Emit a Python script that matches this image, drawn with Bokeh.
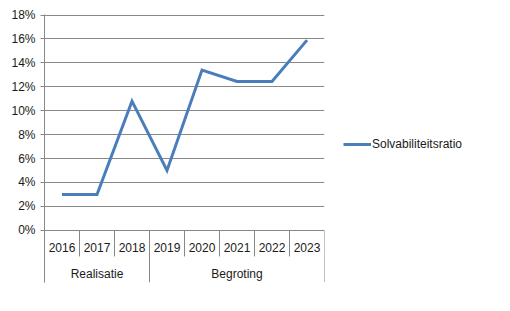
from bokeh.plotting import figure
from bokeh.models import Range1d, FixedTicker, NumeralTickFormatter, Legend, LegendItem, ColumnDataSource
from bokeh.core.properties import value
from bokeh.embed import file_html
from bokeh.resources import INLINE

years = ["2016", "2017", "2018", "2019", "2020", "2021", "2022", "2023"]
groups = ["Realisatie", "Begroting"]
group_sizes = [3, 5]
solvabiliteit = [0.030, 0.030, 0.108, 0.050, 0.134, 0.1245, 0.1245, 0.159]
y_ticks = [0.0, 0.02, 0.04, 0.06, 0.08, 0.10, 0.12, 0.14, 0.16, 0.18]
series_name = "Solvabiliteitsratio"

FONT = "Liberation Sans"
LINE_COLOR = "#4A7EBB"
GRID_COLOR = "#888888"
TEXT_COLOR = "#1a1a1a"

n = len(years)
px_per_unit = 11.92 * 100  # pixels per 1.0 of y
y_bottom = -52.0 / px_per_unit
y_top = 0.18 + 0.5 / px_per_unit

p = figure(frame_width=280, frame_height=268, output_backend="svg", toolbar_location=None,
           x_range=Range1d(0, n), y_range=Range1d(y_bottom, y_top),
           min_border_left=44, min_border_right=186, min_border_top=14, min_border_bottom=29)
p.outline_line_color = None
p.background_fill_color = "white"
p.border_fill_color = "white"

p.xaxis.visible = False
p.xgrid.visible = False

yax = p.yaxis[0]
yax.ticker = FixedTicker(ticks=y_ticks)
yax.formatter = NumeralTickFormatter(format="0%")
yax.axis_line_color = GRID_COLOR
yax.major_tick_line_color = GRID_COLOR
yax.major_tick_out = 4
yax.major_tick_in = 0
yax.minor_tick_line_color = None
yax.major_label_standoff = 5
yax.major_label_text_font = FONT
yax.major_label_text_font_size = "12px"
yax.major_label_text_color = TEXT_COLOR

p.ygrid.ticker = FixedTicker(ticks=y_ticks)
p.ygrid.grid_line_color = GRID_COLOR
p.ygrid.grid_line_width = 1

# category axis separators
year_sep_x = list(range(1, n))
p.segment(x0=year_sep_x, y0=[0] * len(year_sep_x), x1=year_sep_x,
          y1=[-26.0 / px_per_unit] * len(year_sep_x), line_color=GRID_COLOR, line_width=1)
bounds = [0]
for s in group_sizes:
    bounds.append(bounds[-1] + s)
grp_sep_x = bounds[1:]
p.segment(x0=grp_sep_x, y0=[0] * len(grp_sep_x), x1=grp_sep_x,
          y1=[y_bottom] * len(grp_sep_x), line_color=GRID_COLOR, line_width=1)

# year labels
xs = [i + 0.5 for i in range(n)]
p.text(x=xs, y=[-17.5 / px_per_unit] * n, text=years, text_font=value(FONT),
       text_font_size="12px", text_align="center", text_baseline="middle", text_color=TEXT_COLOR)
# group labels
gx = [(bounds[i] + bounds[i + 1]) / 2 for i in range(len(groups))]
p.text(x=gx, y=[-43.5 / px_per_unit] * len(groups), text=groups, text_font=value(FONT),
       text_font_size="12px", text_align="center", text_baseline="middle", text_color=TEXT_COLOR)

src = ColumnDataSource(dict(x=xs, y=solvabiliteit))
r = p.line("x", "y", source=src, line_color=LINE_COLOR, line_width=3, line_join="miter")

legend = Legend(items=[LegendItem(label=series_name, renderers=[r])],
                location=(19, 131), padding=0, margin=0, spacing=0,
                glyph_width=28, glyph_height=14, label_standoff=1,
                label_text_font=FONT, label_text_font_size="12px", label_text_color=TEXT_COLOR,
                border_line_color=None, background_fill_alpha=0)
p.add_layout(legend, "right")

open("out.html", "w").write(file_html(p, INLINE))
